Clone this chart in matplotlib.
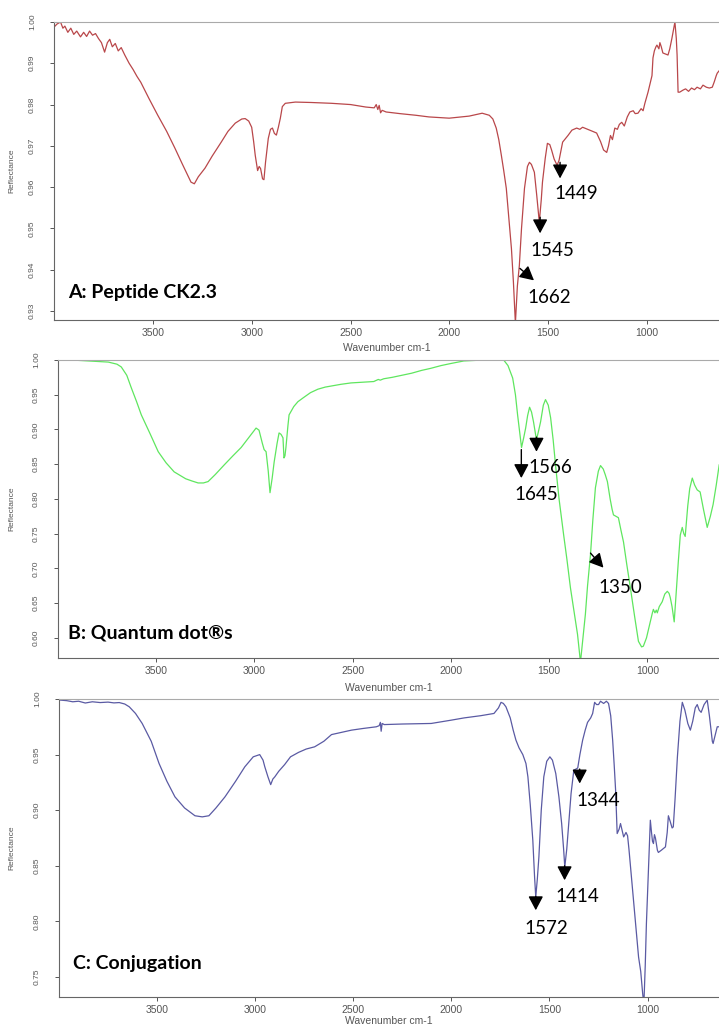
import numpy as np
import matplotlib
matplotlib.use("Agg")
import matplotlib.pyplot as plt

# spectra: (wavenumber cm-1, reflectance)
peptide = [
    (3995, 0.9990), (3985, 0.9995), (3967, 1.0000), (3955, 0.9985), (3945, 0.9990),
    (3930, 0.9975), (3915, 0.9985), (3900, 0.9970), (3885, 0.9978), (3866, 0.9964),
    (3850, 0.9975), (3835, 0.9965), (3820, 0.9978), (3805, 0.9968), (3790, 0.9972),
    (3775, 0.9960), (3760, 0.9950), (3744, 0.9927), (3730, 0.9950), (3718, 0.9958),
    (3705, 0.9940), (3690, 0.9948), (3675, 0.9930), (3660, 0.9938), (3642, 0.9920),
    (3620, 0.9900), (3600, 0.9885), (3580, 0.9868), (3561, 0.9854), (3520, 0.9815),
    (3475, 0.9774), (3430, 0.9735), (3388, 0.9694), (3350, 0.9655), (3307, 0.9612),
    (3290, 0.9608), (3270, 0.9625), (3236, 0.9646), (3200, 0.9675), (3154, 0.9709),
    (3120, 0.9735), (3083, 0.9755), (3050, 0.9765), (3033, 0.9766), (3015, 0.9760),
    (3000, 0.9745), (2990, 0.9710), (2982, 0.9677), (2970, 0.9640), (2962, 0.9650),
    (2955, 0.9645), (2945, 0.9620), (2938, 0.9618), (2930, 0.9660), (2916, 0.9718),
    (2905, 0.9740), (2895, 0.9743), (2885, 0.9730), (2875, 0.9726), (2865, 0.9745),
    (2855, 0.9767), (2845, 0.9795), (2830, 0.9803), (2779, 0.9806), (2700, 0.9805),
    (2596, 0.9803), (2500, 0.9800), (2423, 0.9794), (2380, 0.9792), (2370, 0.9800),
    (2362, 0.9788), (2355, 0.9798), (2348, 0.9780), (2340, 0.9786), (2320, 0.9782),
    (2250, 0.9778), (2169, 0.9774), (2103, 0.9770), (2001, 0.9767), (1900, 0.9772),
    (1834, 0.9779), (1798, 0.9774), (1780, 0.9765), (1763, 0.9743), (1750, 0.9715),
    (1737, 0.9677), (1725, 0.9640), (1712, 0.9597), (1700, 0.9530), (1686, 0.9451),
    (1676, 0.9370), (1666, 0.9270), (1656, 0.9360), (1646, 0.9410), (1635, 0.9500),
    (1620, 0.9597), (1605, 0.9650), (1595, 0.9660), (1585, 0.9655), (1570, 0.9636),
    (1558, 0.9580), (1545, 0.9515), (1535, 0.9570), (1529, 0.9612), (1515, 0.9670),
    (1504, 0.9706), (1492, 0.9703), (1483, 0.9690), (1470, 0.9668), (1455, 0.9653),
    (1445, 0.9665), (1427, 0.9709), (1400, 0.9725), (1380, 0.9738), (1356, 0.9743),
    (1340, 0.9740), (1326, 0.9745), (1300, 0.9740), (1280, 0.9736), (1255, 0.9731),
    (1235, 0.9710), (1220, 0.9690), (1204, 0.9684), (1195, 0.9700), (1185, 0.9725),
    (1175, 0.9715), (1163, 0.9743), (1150, 0.9740), (1140, 0.9752), (1128, 0.9757),
    (1115, 0.9748), (1100, 0.9770), (1087, 0.9782), (1070, 0.9785), (1060, 0.9778),
    (1046, 0.9779), (1030, 0.9790), (1020, 0.9785), (1011, 0.9803), (995, 0.9830),
    (985, 0.9850), (975, 0.9870), (970, 0.9913), (963, 0.9930), (955, 0.9940),
    (950, 0.9944), (940, 0.9935), (935, 0.9950), (928, 0.9940), (920, 0.9925),
    (905, 0.9922), (894, 0.9920), (885, 0.9935), (874, 0.9961), (865, 0.9985),
    (859, 1.0000), (852, 0.9960), (848, 0.9920), (843, 0.9830), (835, 0.9830),
    (818, 0.9835), (805, 0.9838), (790, 0.9832), (775, 0.9840), (760, 0.9836),
    (747, 0.9842), (730, 0.9838), (717, 0.9847), (700, 0.9842), (685, 0.9840),
    (670, 0.9842), (660, 0.9855), (650, 0.9870), (645, 0.9876), (630, 0.9885),
]

quantum_dots = [
    (3993, 1.000), (3900, 0.9995), (3800, 0.998), (3744, 0.997), (3700, 0.994),
    (3678, 0.990), (3650, 0.978), (3627, 0.960), (3600, 0.940), (3576, 0.921),
    (3530, 0.893), (3490, 0.868), (3450, 0.852), (3409, 0.839), (3380, 0.834),
    (3350, 0.829), (3320, 0.826), (3287, 0.823), (3260, 0.823), (3236, 0.825),
    (3200, 0.835), (3154, 0.849), (3110, 0.862), (3068, 0.874), (3030, 0.888),
    (2992, 0.902), (2977, 0.899), (2960, 0.880), (2951, 0.871), (2941, 0.868),
    (2930, 0.840), (2921, 0.809), (2910, 0.830), (2900, 0.853), (2885, 0.880),
    (2875, 0.895), (2865, 0.893), (2855, 0.888), (2850, 0.859), (2845, 0.862),
    (2840, 0.874), (2830, 0.905), (2824, 0.921), (2800, 0.933), (2779, 0.940),
    (2750, 0.946), (2715, 0.953), (2677, 0.958), (2640, 0.961), (2600, 0.963),
    (2560, 0.965), (2509, 0.967), (2450, 0.968), (2393, 0.969), (2370, 0.972),
    (2360, 0.971), (2342, 0.973), (2300, 0.975), (2250, 0.978), (2200, 0.981),
    (2150, 0.985), (2103, 0.988), (2050, 0.992), (2000, 0.995), (1935, 0.9986),
    (1850, 0.9998), (1732, 1.000), (1710, 0.992), (1686, 0.974), (1672, 0.950),
    (1661, 0.921), (1650, 0.895), (1641, 0.874), (1630, 0.888), (1620, 0.902),
    (1610, 0.920), (1600, 0.932), (1590, 0.925), (1580, 0.911), (1565, 0.885),
    (1555, 0.897), (1544, 0.911), (1530, 0.935), (1519, 0.943), (1505, 0.935),
    (1493, 0.917), (1480, 0.885), (1468, 0.849), (1450, 0.800), (1427, 0.749),
    (1410, 0.713), (1392, 0.672), (1375, 0.640), (1356, 0.605), (1341, 0.565),
    (1330, 0.595), (1316, 0.634), (1305, 0.675), (1290, 0.720), (1278, 0.770),
    (1265, 0.816), (1250, 0.840), (1239, 0.848), (1225, 0.843), (1215, 0.835),
    (1204, 0.825), (1190, 0.800), (1180, 0.785), (1173, 0.777), (1160, 0.775),
    (1148, 0.773), (1135, 0.755), (1122, 0.738), (1105, 0.705), (1087, 0.672),
    (1065, 0.630), (1046, 0.595), (1030, 0.587), (1021, 0.588), (1005, 0.600),
    (986, 0.623), (975, 0.636), (970, 0.641), (962, 0.636), (955, 0.640),
    (950, 0.636), (940, 0.645), (925, 0.652), (912, 0.663), (899, 0.667),
    (890, 0.664), (884, 0.658), (875, 0.645), (864, 0.623), (855, 0.660),
    (843, 0.710), (833, 0.748), (823, 0.759), (815, 0.750), (808, 0.746),
    (795, 0.790), (785, 0.815), (772, 0.830), (760, 0.820), (747, 0.813),
    (732, 0.810), (715, 0.785), (696, 0.759), (680, 0.775), (666, 0.792),
    (650, 0.820), (635, 0.849),
]

conjugate = [
    (3993, 0.999), (3960, 0.9985), (3930, 0.9975), (3900, 0.9980), (3866, 0.9964),
    (3830, 0.9975), (3790, 0.9968), (3750, 0.9972), (3720, 0.9965), (3693, 0.9968),
    (3665, 0.9955), (3642, 0.993), (3610, 0.987), (3576, 0.978), (3530, 0.962),
    (3490, 0.942), (3450, 0.926), (3409, 0.912), (3360, 0.902), (3307, 0.895),
    (3270, 0.894), (3236, 0.895), (3200, 0.902), (3154, 0.912), (3100, 0.926),
    (3053, 0.939), (3010, 0.948), (2977, 0.950), (2960, 0.945), (2951, 0.939),
    (2935, 0.930), (2921, 0.923), (2910, 0.928), (2900, 0.930), (2880, 0.935),
    (2850, 0.941), (2820, 0.948), (2779, 0.952), (2740, 0.955), (2697, 0.957),
    (2650, 0.962), (2611, 0.968), (2560, 0.970), (2509, 0.972), (2450, 0.9735),
    (2383, 0.975), (2368, 0.976), (2362, 0.979), (2358, 0.971), (2353, 0.978),
    (2342, 0.977), (2250, 0.9775), (2103, 0.978), (2000, 0.981), (1935, 0.983),
    (1850, 0.985), (1783, 0.987), (1760, 0.992), (1747, 0.997), (1735, 0.996),
    (1722, 0.993), (1700, 0.983), (1685, 0.972), (1671, 0.963), (1655, 0.956),
    (1636, 0.950), (1620, 0.942), (1610, 0.930), (1598, 0.905), (1585, 0.873),
    (1576, 0.840), (1570, 0.822), (1562, 0.838), (1554, 0.858), (1542, 0.900),
    (1529, 0.930), (1514, 0.944), (1498, 0.948), (1485, 0.945), (1468, 0.933),
    (1452, 0.912), (1438, 0.888), (1428, 0.865), (1422, 0.849), (1412, 0.865),
    (1402, 0.888), (1390, 0.915), (1376, 0.936), (1365, 0.937), (1356, 0.938),
    (1345, 0.950), (1331, 0.963), (1318, 0.972), (1306, 0.979), (1290, 0.983),
    (1280, 0.987), (1270, 0.997), (1260, 0.995), (1250, 0.995), (1240, 0.998),
    (1224, 0.996), (1210, 0.998), (1199, 0.996), (1188, 0.985), (1178, 0.963),
    (1170, 0.940), (1163, 0.918), (1155, 0.879), (1145, 0.883), (1138, 0.888),
    (1130, 0.882), (1122, 0.876), (1110, 0.880), (1102, 0.877), (1095, 0.865),
    (1087, 0.849), (1075, 0.825), (1061, 0.798), (1046, 0.768), (1035, 0.755),
    (1025, 0.735), (1019, 0.725), (1012, 0.760), (1006, 0.798), (995, 0.850),
    (986, 0.891), (980, 0.880), (975, 0.872), (970, 0.870), (965, 0.878),
    (960, 0.875), (950, 0.864), (945, 0.862), (930, 0.864), (909, 0.867),
    (900, 0.880), (894, 0.895), (885, 0.890), (875, 0.884), (869, 0.885),
    (860, 0.910), (848, 0.948), (835, 0.980), (823, 0.997), (810, 0.990),
    (795, 0.978), (782, 0.972), (770, 0.980), (757, 0.992), (747, 0.995),
    (737, 0.990), (727, 0.988), (712, 0.995), (696, 0.999), (685, 0.985),
    (670, 0.962), (666, 0.960), (655, 0.968), (645, 0.975), (635, 0.975),
]

panel_titles = ["A: Peptide CK2.3", "B: Quantum dot®s", "C: Conjugation"]
line_colors = ["#b9474a", "#5fe65f", "#5a5aa3"]
x_ticks = [3500, 3000, 2500, 2000, 1500, 1000]
y_ticks_a = [0.93, 0.94, 0.95, 0.96, 0.97, 0.98, 0.99, 1.00]
y_ticks_b = [0.60, 0.65, 0.70, 0.75, 0.80, 0.85, 0.90, 0.95, 1.00]
y_ticks_c = [0.75, 0.80, 0.85, 0.90, 0.95, 1.00]

# peak labels: text, arrow tip, arrow tail, text centre (data coords)
peaks_a = [("1449", (1440, 0.9621), (1440, 0.9660), (1359, 0.9585)),
           ("1545", (1541, 0.9488), (1541, 0.9527), (1481, 0.9447)),
           ("1662", (1572, 0.9374), (1643, 0.9403), (1496, 0.9333))]
peaks_b = [("1566", (1565, 0.868), (1565, 0.889), (1494, 0.845)),
           ("1645", (1642, 0.830), (1642, 0.871), (1565, 0.806)),
           ("1350", (1224, 0.701), (1290, 0.722), (1138, 0.672))]
peaks_c = [("1344", (1346, 0.924), (1346, 0.937), (1250, 0.909)),
           ("1414", (1423, 0.837), (1423, 0.850), (1356, 0.822)),
           ("1572", (1570, 0.810), (1570, 0.8225), (1514, 0.794))]

W, H = 719, 1024
fig = plt.figure(figsize=(W / 100, H / 100), dpi=100)

# axes boxes in pixels: left, top, bottom
boxes = [(54, 22, 320), (58, 360, 658), (59, 699, 997)]
ylims = [(0.9278, 1.0), (0.571, 1.0), (0.732, 1.0)]
xlabel_gap = [23, 25, 19]
all_data = [peptide, quantum_dots, conjugate]
all_yticks = [y_ticks_a, y_ticks_b, y_ticks_c]
all_peaks = [peaks_a, peaks_b, peaks_c]
title_pos = [(0.021, 0.091), (0.015, 0.084), (0.021, 0.114)]

tick_col = "#555555"
for i in range(3):
    left, top, bottom = boxes[i]
    ax = fig.add_axes([left / W, 1 - bottom / H, (W - left) / W, (bottom - top) / H])
    x, y = np.array(all_data[i]).T
    ax.plot(x, y, color=line_colors[i], lw=0.9)
    ax.set_xlim(4000, 636)
    ax.set_ylim(*ylims[i])
    ax.set_xticks(x_ticks)
    ax.set_xticklabels([str(t) for t in x_ticks], fontsize=7.5, color=tick_col,
                       family="Liberation Sans")
    ax.set_yticks(all_yticks[i])
    ax.set_yticklabels(["%.2f" % t for t in all_yticks[i]], fontsize=6, color=tick_col,
                       rotation=90, va="center", family="Liberation Sans")
    ax.tick_params(axis="x", length=3, width=0.7, color=tick_col, pad=3)
    ax.tick_params(axis="y", length=3, width=0.7, color=tick_col, pad=10)
    ax.spines["right"].set_visible(False)
    ax.spines["top"].set_color("#aaaaaa")
    ax.spines["left"].set_color("#666666")
    ax.spines["bottom"].set_color("#666666")
    for s in ax.spines.values():
        s.set_linewidth(0.8)
    ax.set_xlabel("Wavenumber cm-1", fontsize=7.5, color=tick_col, family="Liberation Sans")
    ax.xaxis.set_label_coords(0.5, -xlabel_gap[i] / (bottom - top))
    ax.set_ylabel("Reflectance", fontsize=6, color=tick_col, family="Liberation Sans")
    ax.yaxis.set_label_coords(-(left - 15) / (W - left), 0.5)

    ax.text(title_pos[i][0], title_pos[i][1], panel_titles[i], transform=ax.transAxes,
            fontsize=14, fontweight="bold", family="Lato", va="center", ha="left")

    for label, tip, tail, tpos in all_peaks[i]:
        ax.annotate("", xy=tip, xytext=tail,
                    arrowprops=dict(arrowstyle="-|>,head_length=0.85,head_width=0.45",
                                    color="black", lw=1.0, shrinkA=0, shrinkB=0,
                                    mutation_scale=10))
        ax.text(tpos[0], tpos[1], label, fontsize=13.5, family="Lato",
                ha="center", va="center")

fig.savefig("out.png", dpi=100)
